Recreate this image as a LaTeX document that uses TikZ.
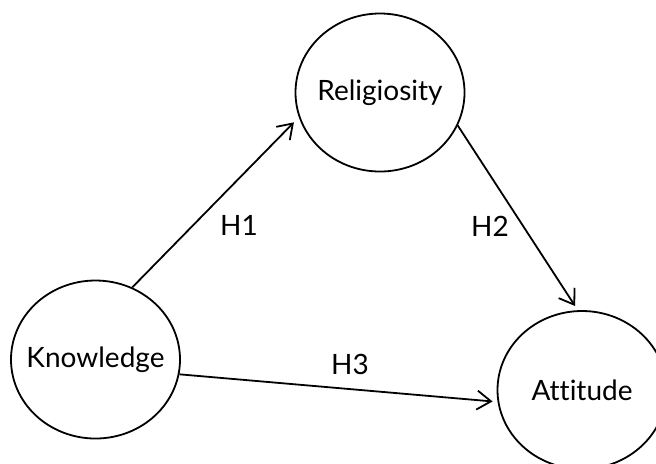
\documentclass[tikz,border=0pt]{standalone}
\usepackage{fontspec}
\setmainfont[Ligatures=NoCommon]{Lato}
\usetikzlibrary{shapes.geometric, arrows.meta, positioning, calc}

\newcommand{\cname}[1]{\makebox[0pt]{#1}}

\tikzset{
  construct/.style={ellipse, draw, line width=0.9pt, inner sep=0pt,
    minimum width=84.5pt, minimum height=79pt, font=\fontsize{14}{16}\selectfont},
  hypo/.style={-{Straight Barb[length=7pt,width=9.5pt,line width=0.9pt]}, line width=0.9pt},
  hlabel/.style={font=\fontsize{14}{16}\selectfont}
}

\begin{document}
\begin{tikzpicture}[x=0.5pt, y=-0.5pt]
\useasboundingbox (0,0) rectangle (656,463);
\clip (0,0) rectangle (656,463);

% constructs
\node[construct] (know) at (95.5,359.5) {\cname{Knowledge}};
\node[construct] (reli) at (380,92.5) {\cname{Religiosity}};
\node[construct] (atti) at (582,390) {\cname{Attitude}};

% hypotheses
\draw[hypo, shorten >=3.5pt] (know.63) -- (reli.197);
\draw[hypo, shorten >=2.5pt] (reli.337) -- (atti.93);
\draw[hypo, shorten >=2.5pt] (know.350) -- (atti.188);

\node[hlabel] (h1) at (239,225) {H1};
\node[hlabel] (h2) at (490,226) {H2};
\node[hlabel] (h3) at (350,364) {H3};
\end{tikzpicture}
\end{document}
